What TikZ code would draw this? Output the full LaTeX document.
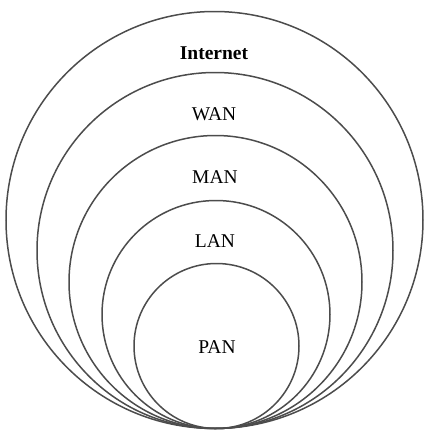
\documentclass[tikz,border=0pt]{standalone}
\usepackage{fontspec}
\setmainfont{Liberation Serif}
\usetikzlibrary{positioning}

\begin{document}
\begin{tikzpicture}[
  x=1pt, y=-1pt,
  ring/.style={draw=black!70, line width=1.5pt},
  netlabel/.style={font=\fontsize{19.5}{22}\selectfont, inner sep=0pt},
]
\useasboundingbox (0,0) rectangle (428,432);

% nested rings, all touching at the bottom
\draw[ring] (214.5,220) circle[radius=208.5];
\draw[ring] (215,250.5) circle[radius=178];
\draw[ring] (215.5,282) circle[radius=146.5];
\draw[ring] (216,314.5) circle[radius=114];
\draw[ring] (216.5,346) circle[radius=82.5];

\node[netlabel, font=\fontsize{19.5}{22}\selectfont\bfseries] (internet) at (214,53) {Internet};
\node[netlabel] (wan) at (214,114) {WAN};
\node[netlabel] (man) at (215,177) {MAN};
\node[netlabel] (lan) at (215,241) {LAN};
\node[netlabel] (pan) at (217,347) {PAN};

\end{tikzpicture}
\end{document}
